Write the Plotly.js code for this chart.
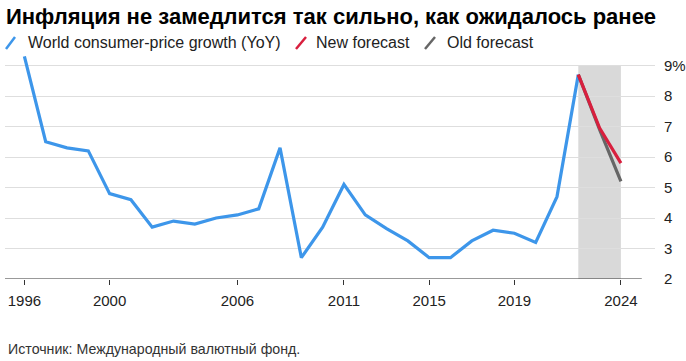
<!DOCTYPE html>
<html>
<head>
<meta charset="utf-8">
<script src="https://cdn.plot.ly/plotly-3.0.1.min.js"></script>
<style>html,body{margin:0;padding:0;background:#fff;}#chart{width:686px;height:361px;}</style>
</head>
<body>
<div id="chart"></div>
<script>
const years = [1996,1997,1998,1999,2000,2001,2002,2003,2004,2005,2006,2007,2008,2009,2010,2011,2012,2013,2014,2015,2016,2017,2018,2019,2020,2021,2022];
const cpiGrowth = [9.3,6.5,6.3,6.2,4.8,4.6,3.7,3.9,3.8,4.0,4.1,4.3,6.3,2.7,3.7,5.1,4.1,3.65,3.25,2.7,2.7,3.25,3.6,3.5,3.2,4.7,8.7];
const forecastYears = [2022,2023,2024];
const newForecast = [8.7,6.95,5.8];
const oldForecast = [8.7,6.9,5.2];
const xTickVals = [1996,2000,2006,2011,2015,2019,2024];
const yTickVals = [2,3,4,5,6,7,8,9];
const yTickText = ['2','3','4','5','6','7','8','9%'];
const seriesNames = ['World consumer-price growth (YoY)','New forecast','Old forecast'];
const colors = ['#3d96ea','#d81f3e','#666666'];

const W = 686, H = 361;
const L = 5, R = 31, T = 54, B = 82;
const pw = W - L - R, ph = H - T - B;
const px = v => (v - L) / pw;
const py = v => (H - B - v) / ph;

const font = 'Liberation Sans, Arial, Helvetica, sans-serif';

const traces = [
  {x: years, y: cpiGrowth, name: seriesNames[0], type: 'scatter', mode: 'lines',
   line: {color: colors[0], width: 3.2}, hoverinfo: 'skip'},
  {x: forecastYears, y: oldForecast, name: seriesNames[2], type: 'scatter', mode: 'lines',
   line: {color: colors[2], width: 3.2}, hoverinfo: 'skip'},
  {x: forecastYears, y: newForecast, name: seriesNames[1], type: 'scatter', mode: 'lines',
   line: {color: colors[1], width: 3.2}, hoverinfo: 'skip'}
];

const legendItems = [
  {slash: [6, 15], text: 26, name: seriesNames[0], color: colors[0]},
  {slash: [296, 306], text: 314, name: seriesNames[1], color: colors[1]},
  {slash: [425, 435], text: 445, name: seriesNames[2], color: colors[2]}
];

const shapes = [
  {type: 'rect', xref: 'x', yref: 'y', x0: forecastYears[0], x1: forecastYears[2], y0: 2, y1: 9,
   fillcolor: '#d9d9d9', line: {width: 0}, layer: 'below'},
  {type: 'line', xref: 'x', yref: 'y', x0: 1995.09, x1: 2024.98, y0: 2, y1: 2,
   line: {color: '#333333', width: 1}, layer: 'above'}
];
const annotations = [];
legendItems.forEach(it => {
  shapes.push({type: 'line', xref: 'paper', yref: 'paper',
    x0: px(it.slash[0]), x1: px(it.slash[1]), y0: py(49), y1: py(37),
    line: {color: it.color, width: 2.5}});
  annotations.push({xref: 'paper', yref: 'paper', x: px(it.text), y: py(43),
    xanchor: 'left', yanchor: 'middle', showarrow: false, text: it.name,
    font: {family: font, size: 16, color: '#222'}});
});
annotations.push({xref: 'paper', yref: 'paper', x: px(6), y: py(349),
  xanchor: 'left', yanchor: 'middle', showarrow: false,
  text: 'Источник: Международный валютный фонд.',
  font: {family: font, size: 14.2, color: '#333'}});

const layout = {
  width: W, height: H,
  margin: {l: L, r: R, t: T, b: B, pad: 0},
  paper_bgcolor: '#fff', plot_bgcolor: '#fff',
  showlegend: false,
  title: {text: 'Инфляция не замедлится так сильно, как ожидалось ранее',
    xref: 'container', yref: 'container', x: 6 / W, xanchor: 'left', y: 1 - 16 / H, yanchor: 'middle',
    font: {family: font, size: 22, color: '#000', weight: 'bold'}},
  xaxis: {range: [1995.09, 2025.6], tickvals: xTickVals, ticks: 'outside', ticklen: 5,
    tickcolor: '#333', tickwidth: 1, showgrid: false, zeroline: false, showline: false,
    ticklabelstandoff: 3,
    tickfont: {family: font, size: 15, color: '#222'}, fixedrange: true},
  yaxis: {side: 'right', range: [2, 2 + ph / 30.5], tickvals: yTickVals, ticktext: yTickText,
    showgrid: true, gridcolor: '#dedede', gridwidth: 1, zeroline: false, showline: false,
    ticks: 'outside', ticklen: 5, tickcolor: 'rgba(0,0,0,0)',
    tickfont: {family: font, size: 15, color: '#222'}, fixedrange: true},
  shapes: shapes,
  annotations: annotations
};

Plotly.newPlot('chart', traces, layout, {displayModeBar: false, staticPlot: true});
</script>
</body>
</html>
